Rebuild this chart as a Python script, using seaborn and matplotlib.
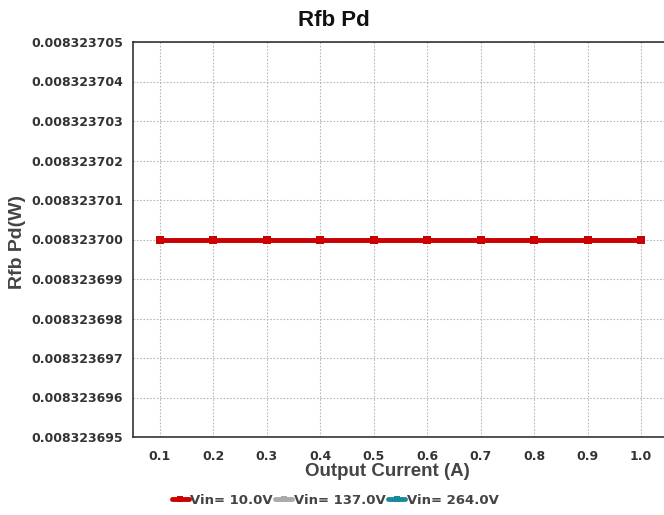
import numpy as np
import pandas as pd
import matplotlib
matplotlib.use("Agg")
import matplotlib.pyplot as plt
import seaborn as sns
from matplotlib.ticker import FormatStrFormatter

sns.set_style("white")
plt.rcParams["font.family"] = ["Liberation Sans", "DejaVu Sans"]

output_current = [0.1, 0.2, 0.3, 0.4, 0.5, 0.6, 0.7, 0.8, 0.9, 1.0]
pd_vin_10 = [0.0083237] * 10
pd_vin_137 = [0.0083237] * 10
pd_vin_264 = [0.0083237] * 10
series_names = ["Vin= 10.0V", "Vin= 137.0V", "Vin= 264.0V"]
series_colors = ["#CC0000", "#AAAAAA", "#1A8A9A"]
y_ticks = [0.008323695, 0.008323696, 0.008323697, 0.008323698, 0.008323699,
           0.008323700, 0.008323701, 0.008323702, 0.008323703, 0.008323704,
           0.008323705]

df = pd.concat([
    pd.DataFrame({"I": output_current, "P": pd_vin_10, "s": series_names[0]}),
    pd.DataFrame({"I": output_current, "P": pd_vin_137, "s": series_names[1]}),
    pd.DataFrame({"I": output_current, "P": pd_vin_264, "s": series_names[2]}),
])

fig = plt.figure(figsize=(6.64, 5.15), dpi=100)
ax = fig.add_axes([133 / 664, 78 / 515, 1 - 133 / 664, 395 / 515])

sns.lineplot(data=df, x="I", y="P", hue="s", hue_order=series_names,
             palette=series_colors, marker="s", markersize=6,
             markeredgewidth=0, linewidth=3.5, ax=ax, legend=False)

# keep the first series on top
for ln, z in zip(ax.get_lines(), [5, 4, 3]):
    ln.set_zorder(z)

ax.set_xlim(0.05, 1.043)
ax.set_ylim(y_ticks[0], y_ticks[-1])
ax.set_xticks(output_current)
ax.set_yticks(y_ticks)
ax.yaxis.set_major_formatter(FormatStrFormatter("%.9f"))
ax.xaxis.set_major_formatter(FormatStrFormatter("%.1f"))
ax.yaxis.get_offset_text().set_visible(False)

ax.grid(True, linestyle=(0, (1.5, 1.5)), color="#B8B8B8", linewidth=0.8)
for side in ["left", "bottom", "top"]:
    ax.spines[side].set_color("#333333")
    ax.spines[side].set_linewidth(1.2)
ax.spines["right"].set_visible(False)

ax.tick_params(axis="both", length=0, labelcolor="#333333")
ax.tick_params(axis="y", pad=7)
ax.tick_params(axis="x", pad=9)
for lbl in ax.get_xticklabels() + ax.get_yticklabels():
    lbl.set_fontweight("bold")
    lbl.set_fontfamily("DejaVu Sans")
    lbl.set_fontsize(9)

ax.set_xlabel("Output Current (A)", fontsize=13.5, fontweight="bold", color="#444444")
ax.xaxis.set_label_coords((387 - 133) / (664 - 133), -(471 - 437) / 395)
ax.xaxis.label.set_va("center")
ax.set_ylabel("Rfb Pd(W)", fontsize=14, fontweight="bold", color="#444444")
ax.yaxis.set_label_coords(-(133 - 18) / (664 - 133), (437 - 242) / 395)
ax.yaxis.label.set_va("center")
fig.text(334 / 664, 1 - 20 / 515, "Rfb Pd", ha="center", va="center",
         fontsize=16, fontweight="bold", color="#111111")

handles = [plt.Line2D([], [], color=c, marker="s", markersize=5, linewidth=3.5,
                      markeredgewidth=0) for c in series_colors]
fig.legend(handles, series_names, loc="center", bbox_to_anchor=(335 / 664, 1 - 500 / 515),
           ncol=3, frameon=False, handlelength=1.3, handletextpad=0.1,
           columnspacing=0.2, prop={"weight": "bold", "size": 9.5, "family": "DejaVu Sans"})
for t in fig.legends[0].get_texts():
    t.set_color("#444444")

fig.savefig("out.png", dpi=100)
